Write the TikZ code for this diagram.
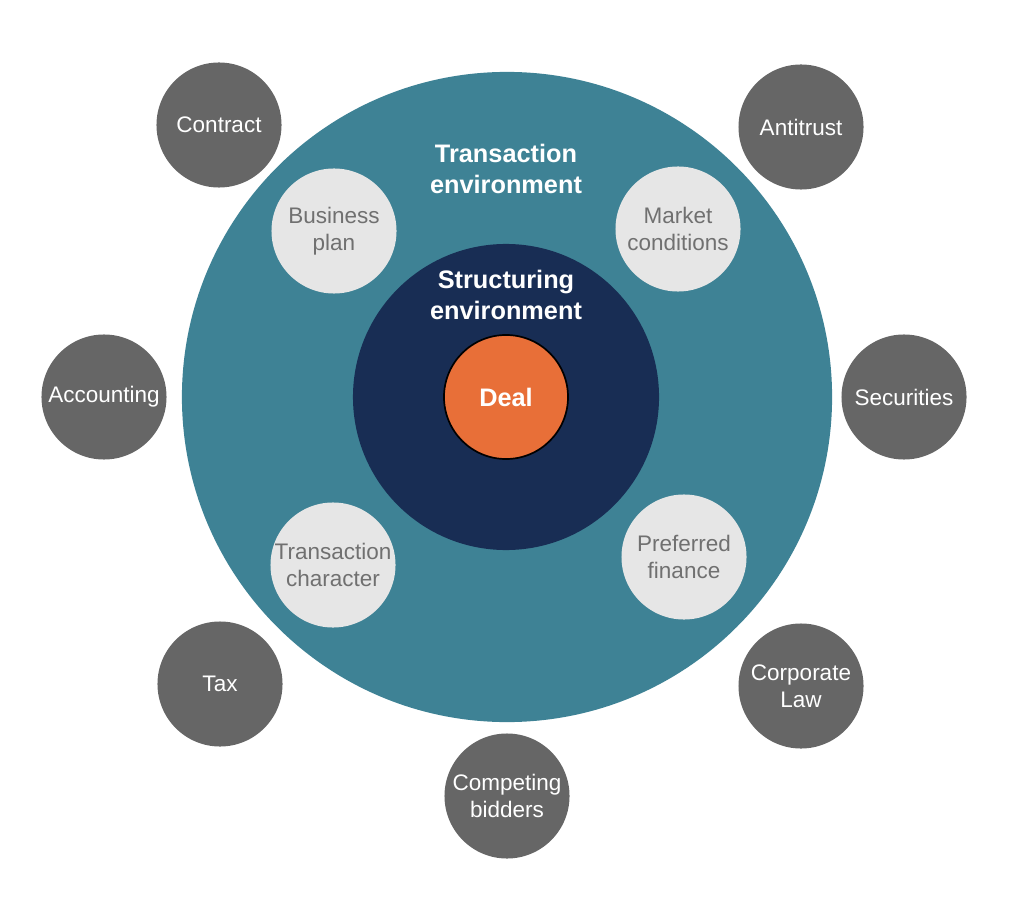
\documentclass[tikz,border=0pt]{standalone}
\usepackage{fontspec}
\setmainfont{Liberation Sans}
\usetikzlibrary{positioning}

\definecolor{teal}{HTML}{3E8295}
\definecolor{navy}{HTML}{182D54}
\definecolor{dealorange}{HTML}{E86F38}
\definecolor{darkgrey}{HTML}{666666}
\definecolor{lightgrey}{HTML}{E6E6E6}
\definecolor{greytext}{HTML}{707070}

\tikzset{
  outer/.style={circle,fill=darkgrey,minimum size=3.125cm,inner sep=0pt,align=center,
    text=white,font=\fontsize{16}{19.5}\selectfont},
  inner/.style={circle,fill=lightgrey,minimum size=3.125cm,inner sep=0pt,align=center,
    text=greytext,font=\fontsize{16}{19.5}\selectfont},
  title/.style={align=center,text=white,font=\bfseries\fontsize{18}{21.5}\selectfont}
}

\begin{document}
\begin{tikzpicture}[x=0.025cm,y=-0.025cm]
\useasboundingbox (0,0) rectangle (1024,898);

% rings
\node[circle,fill=teal,minimum size=16.25cm,inner sep=0pt] (trans) at (507,397) {};
\node[circle,fill=navy,minimum size=7.65cm,inner sep=0pt] (struct) at (506,397) {};
\node[circle,fill=dealorange,draw=black,line width=1.2pt,minimum size=3.1cm,inner sep=0pt,
  text=white,font=\bfseries\fontsize{18}{21.5}\selectfont] (deal) at (506,397) {Deal};

\node[title] (transtitle) at (506,169) {Transaction\\environment};
\node[title] (structtitle) at (506,295) {Structuring\\environment};

% inside the transaction environment
\node[inner] (plan) at (334,231) {Business\\plan};
\node[inner] (market) at (678,229) {Market\\conditions};
\node[inner] (character) at (333,565) {Transaction\\character};
\node[inner] (finance) at (684,557) {Preferred\\finance};

% outside
\node[outer] (contract) at (219,125) {Contract};
\node[outer] (antitrust) at (801,127) {Antitrust};
\node[outer] (accounting) at (104,397) {Accounting};
\node[outer] (securities) at (904,397) {Securities};
\node[outer] (tax) at (220,684) {Tax};
\node[outer] (corplaw) at (801,686) {Corporate\\Law};
\node[outer] (bidders) at (507,796) {Competing\\bidders};
\end{tikzpicture}
\end{document}
